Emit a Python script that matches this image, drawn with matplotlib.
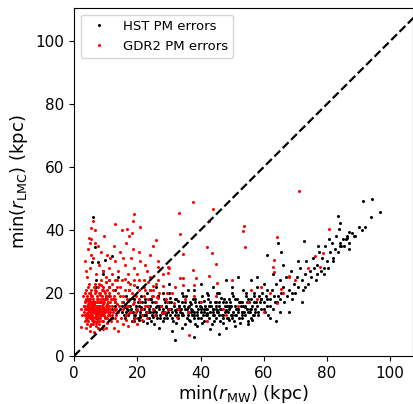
import numpy as np
import matplotlib
matplotlib.use("Agg")
import matplotlib.pyplot as plt

# HST PM errors (black)
hst_x = [
    4, 5, 6, 7, 8, 9, 10, 11, 12, 13,
    5, 6, 7, 8, 9, 10, 11, 12, 13, 14,
    6, 6.5, 12, 9.8, 7.6, 5.7, 9, 13, 7, 11,
    15, 15.5, 16, 16.3, 16.8, 17, 17.4, 17.8, 18.2, 18.5,
    19, 19.3, 19.7, 20, 20.3, 20.6, 21, 21.3, 21.7, 22,
    22.3, 22.6, 23, 23.3, 23.6, 24, 24.3, 24.6, 25, 25.3,
    25.6, 26, 26.3, 26.6, 27, 27.3, 27.6, 28, 28.3, 28.6,
    29, 29.3, 29.6, 30, 30.3, 30.6, 31, 31.3, 31.6, 32,
    32.3, 32.6, 33, 33.3, 33.6, 34, 34.3, 34.6, 35, 35.3,
    35.6, 36, 36.3, 36.6, 37, 37.3, 37.6, 38, 38.3, 38.6,
    39, 39.3, 39.6, 40, 40.3, 40.6, 41, 41.3, 41.6, 42,
    42.3, 42.6, 43, 43.3, 43.6, 44, 44.3, 44.6, 45, 45.3,
    45.6, 46, 46.3, 46.6, 47, 47.3, 47.6, 48, 48.3, 48.6,
    49, 49.3, 49.6, 50, 50.3, 50.6, 51, 51.3, 51.6, 52,
    52.3, 52.6, 53, 53.3, 53.6, 54, 54.3, 54.6, 55, 55.3,
    55.6, 56, 56.3, 56.6, 57, 57.3, 57.6, 58, 58.3, 58.6,
    15.2, 16.5, 17.6, 18.8, 19.5, 20.8, 21.5, 22.8, 23.8, 24.8,
    25.8, 26.8, 27.8, 28.8, 29.8, 30.8, 31.8, 32.8, 33.8, 34.8,
    35.8, 36.8, 37.8, 38.8, 39.8, 40.8, 41.8, 42.8, 43.8, 44.8,
    45.8, 46.8, 47.8, 48.8, 49.8, 50.8, 51.8, 52.8, 53.8, 54.8,
    55.8, 56.8, 57.8, 58.8, 59.2, 59.6, 60, 60.4, 60.8, 61.2,
    16, 18, 20, 22, 24, 26, 28, 30, 32, 34,
    36, 38, 40, 42, 44, 46, 48, 50, 52, 54,
    56, 17, 21, 25, 29, 33, 37, 41, 45, 49,
    53, 57, 19, 23, 27, 31, 35, 39, 43, 47,
    51, 55, 26, 30, 36, 40, 44, 48, 52, 56,
    32, 38, 46, 42, 34, 28, 24, 38, 50, 46,
    61.5, 62, 62.5, 63, 63.5, 64, 64.5, 65, 65.5, 66,
    66.5, 67, 67.5, 68, 68.5, 69, 69.5, 70, 70.5, 71,
    71.5, 72, 72.5, 73, 73.5, 74, 74.5, 75, 75.5, 76,
    76.5, 77, 77.5, 78, 78.5, 79, 79.5, 80, 80.5, 81,
    81.5, 82, 82.5, 83, 83.5, 84, 84.5, 85, 85.5, 86,
    86.5, 87, 88, 89, 90, 91, 92.1, 91.5, 94.4, 96.7,
    94, 83.6, 84.2, 83.9, 87, 88.6, 86.3, 72.8, 77.2, 80.7,
    63, 66, 60, 58, 62, 64, 68, 72, 61, 65,
    69, 73, 77, 79, 82, 84, 87, 71, 64.5, 65.5,
    61, 59, 57, 55, 53, 51, 49, 47, 45, 43,
    15.7, 16.9, 18.1, 19.1, 20.1, 21.1, 22.1, 23.1, 24.1, 25.1,
    26.1, 27.1, 28.1, 29.1, 30.1, 31.1, 32.1, 33.1, 34.1, 35.1,
    36.1, 37.1, 38.1, 39.1, 40.1, 41.1, 42.1, 43.1, 44.1, 45.1,
    46.1, 47.1, 48.1, 49.1, 50.1, 51.1, 52.1, 53.1, 54.1, 55.1,
    56.1, 57.1, 58.1, 59.1, 60.1, 61.1, 62.1, 63.1, 64.1, 65.1,
    18.4, 22.4, 26.4, 30.4, 34.4, 38.4, 42.4, 46.4, 50.4, 54.4,
    20.4, 24.4, 28.4, 32.4, 36.4, 40.4, 44.4, 48.4, 52.4, 56.4,
    17.2, 21.2, 25.2, 29.2, 33.2, 37.2, 41.2, 45.2, 49.2, 53.2,
]
hst_y = [
    15, 13, 17, 12, 16, 14, 18, 13, 15, 17,
    20, 11, 24, 14, 27, 19, 22, 12, 16, 25,
    44, 34.7, 31.7, 30.5, 29.8, 29.8, 26, 21, 22, 19,
    14, 17, 12, 19, 15, 13, 21, 16, 11, 14,
    18, 13, 15, 22, 12, 16, 14, 19, 11, 15,
    17, 13, 20, 14, 12, 16, 18, 13, 15, 10,
    17, 14, 12, 19, 15, 13, 16, 11, 18, 14,
    16, 12, 15, 20, 13, 17, 14, 11, 16, 13,
    18, 15, 12, 16, 14, 9, 17, 13, 15, 19,
    12, 14, 16, 11, 15, 13, 18, 14, 10, 16,
    13, 15, 17, 12, 14, 19, 11, 16, 13, 15,
    18, 12, 14, 16, 10, 15, 13, 17, 12, 20,
    14, 16, 11, 15, 13, 18, 14, 9, 16, 12,
    15, 17, 13, 20, 14, 11, 16, 13, 18, 15,
    12, 17, 14, 21, 16, 13, 19, 15, 11, 17,
    14, 18, 16, 13, 20, 15, 17, 22, 14, 19,
    16, 14, 18, 13, 16, 13, 17, 14, 15, 17,
    13, 16, 14, 17, 14, 15, 18, 13, 15, 16,
    15, 17, 12, 14, 16, 13, 15, 16, 13, 15,
    17, 13, 16, 14, 16, 13, 15, 16, 14, 17,
    15, 17, 16, 17, 15, 20, 17, 14, 19, 16,
    15.5, 15, 14.5, 13, 14, 15.5, 13.5, 15, 14.5, 13.5,
    15.5, 13, 15.5, 13.5, 14, 13, 14.5, 13, 14, 15.5,
    15, 17.5, 12.5, 12.5, 13.5, 17.5, 16.5, 17.5, 16, 11.5,
    12, 13, 11, 10.5, 9, 8, 10, 9.5, 8.5, 10.5,
    9.5, 10, 22, 23, 21, 23, 22, 24, 25, 24,
    5, 6, 7, 20, 20, 20, 21, 21, 22, 20,
    13, 18, 21, 15, 17, 23, 19, 14, 20, 22,
    17, 25, 19, 21, 27, 18, 23, 20, 25, 22,
    28, 24, 21, 26, 30, 23, 27, 25, 31, 28,
    24, 29, 33, 27, 31, 26, 35, 30, 28, 33,
    36, 31, 34, 38, 33, 36, 35, 37, 35, 37,
    38, 36, 39, 38, 41, 40, 41, 49.2, 49.8, 45.6,
    44.1, 44.5, 42.2, 40.4, 39.5, 38.1, 37.5, 36.5, 34.9, 37.1,
    26, 29, 23, 25, 12, 11, 14, 17, 21, 24,
    20, 22, 26, 28, 30, 35, 34, 30, 36, 33,
    32, 18, 19, 18, 17, 18, 18, 17, 17, 16,
    13, 16, 14, 12, 17, 15, 13, 16, 18, 14,
    16, 12, 15, 13, 17, 12, 14, 16, 13, 17,
    13, 14, 17, 12, 15, 14, 13, 17, 15, 14,
    15, 12, 17, 16, 12, 15, 17, 13, 16, 14,
    12, 14, 13, 18, 15, 18, 16, 19, 17, 18,
    18.5, 18, 19, 18.5, 19, 18, 19.5, 18.5, 19, 20,
    11.5, 11, 12, 10.5, 11.5, 10.5, 11, 12, 10.5, 11.5,
    14.5, 15.5, 14.5, 15.5, 15, 14.5, 15, 14.5, 15.5, 14,
]

# GDR2 PM errors (red)
gdr2_x = [
    3.2, 3.5, 3.8, 4, 4.2, 4.4, 4.6, 4.8, 5, 5.2,
    5.4, 5.6, 5.8, 6, 6.2, 6.4, 6.6, 6.8, 7, 7.2,
    7.4, 7.6, 7.8, 8, 8.2, 8.4, 8.6, 8.8, 9, 9.2,
    9.4, 9.6, 9.8, 10, 10.2, 10.4, 10.6, 10.8, 11, 11.2,
    11.4, 11.6, 11.8, 12, 12.3, 12.6, 13, 13.4, 13.8, 14.2,
    3.3, 3.6, 3.9, 4.1, 4.3, 4.5, 4.7, 4.9, 5.1, 5.3,
    5.5, 5.7, 5.9, 6.1, 6.3, 6.5, 6.7, 6.9, 7.1, 7.3,
    7.5, 7.7, 7.9, 8.1, 8.3, 8.5, 8.7, 8.9, 9.1, 9.3,
    9.5, 9.7, 9.9, 10.1, 10.3, 10.5, 10.7, 10.9, 11.1, 11.3,
    3.4, 3.7, 4, 4.3, 4.6, 4.9, 5.2, 5.5, 5.8, 6.1,
    6.4, 6.7, 7, 7.3, 7.6, 7.9, 8.2, 8.5, 8.8, 9.1,
    4.2, 4.8, 5.4, 6, 6.6, 7.2, 7.8, 8.4, 9, 9.6,
    3.5, 4.5, 5.5, 6.5, 7.5, 8.5, 3.8, 5, 6.3, 7.6,
    4.4, 5.6, 6.8, 8, 9.2, 10.4, 11.6, 12.8, 3.6, 9,
    12.2, 12.8, 13.2, 13.6, 14, 14.4, 14.8, 15.2, 15.6, 16,
    16.4, 16.8, 17.2, 17.6, 18, 18.4, 18.8, 19.2, 19.6, 20,
    20.5, 21, 21.5, 22, 22.5, 23, 23.5, 24, 25, 26,
    4, 5, 6, 4.5, 5.5, 6.5, 3.7, 7, 8, 9,
    10, 11, 12, 13, 14, 15, 16, 17, 18, 19,
    20, 21, 22, 23, 24, 8.5, 10.5, 12.5, 14.5, 16.5,
    18.5, 20.5, 22.5, 15, 17.5, 19, 18.5, 13, 21, 25,
    6, 5, 5.5, 3.4, 9.5, 11.5, 13.5, 15.5, 17, 19,
    7.5, 26, 27, 29, 32, 28, 30, 26.5, 24, 26,
    5.5, 16.7, 18.4, 4.7, 6.7, 2.1, 2.5, 3, 2.8, 2.3,
    12.5, 14, 15.5, 17, 18.5, 20, 21.5, 23, 13.5, 16.5,
    13, 14.5, 16, 17.5, 19, 20.5, 22, 23.5, 25, 26.5,
    11, 12, 10, 9, 12.5, 13.5, 14.5, 15.5, 16.5, 17.5,
    18.5, 19.5, 20.5, 21.5, 22.5, 23.5, 24.5, 25.5, 26.5, 27.5,
    33.2, 37.6, 44.1, 42.8, 33.4, 42.2, 43.6, 34.4, 53.7, 53.6,
    54.2, 44.9, 37.6, 42.8, 33.5, 34.6, 38.5, 34.6, 37.8, 45.2,
    36.3, 32.5, 29.3, 27.5, 27.7, 31.7, 26.2, 28.8, 29.8, 29.8,
    26.7, 24.9, 28.2, 71.2, 80.8, 64.1, 63.1, 62.9, 63.3, 76.3,
    78.9, 77.8, 68, 65.4, 64.3, 67.9, 36, 40, 45, 48,
    52, 56, 58, 60, 62, 35, 30, 42, 50, 70,
    74, 66, 31, 33, 29.5, 38, 47, 55, 59, 25,
    3.1, 3.9, 4.7, 5.5, 6.3, 7.1, 7.9, 8.7, 9.5, 10.3,
    3.5, 4.3, 5.1, 5.9, 6.7, 7.5, 8.3, 9.1, 9.9, 10.7,
    4.1, 4.9, 5.7, 6.5, 7.3, 8.1, 8.9, 9.7, 10.5, 11.3,
    4, 5, 6, 7, 8, 9, 10, 11, 12, 13,
    3.3, 4.4, 5.3, 6.2, 7.4, 8.2, 9.3, 10.2, 11.5, 12.4,
    3.8, 4.6, 5.4, 6.2, 7, 7.8, 8.6, 9.4, 10.2, 11,
]
gdr2_y = [
    14, 16, 12, 18, 15, 11, 20, 13, 17, 14,
    10, 19, 15, 12, 17, 14, 21, 13, 16, 11,
    18, 14, 20, 15, 12, 17, 13, 19, 15, 22,
    14, 17, 12, 19, 15, 21, 13, 17, 16, 20,
    14, 18, 12, 16, 21, 15, 18, 13, 20, 16,
    17, 13, 15, 10, 16, 14, 18, 12, 15, 19,
    13, 16, 14, 18, 11, 15, 17, 14, 19, 13,
    16, 12, 17, 14, 20, 15, 11, 16, 13, 18,
    15, 20, 14, 16, 12, 18, 15, 22, 13, 17,
    15, 18, 13, 17.5, 15.5, 16.5, 12, 17, 13, 15.5,
    16.5, 12.5, 14.5, 17, 15.5, 13, 16, 18, 14, 16.5,
    13.5, 14.5, 15, 14, 15, 14.5, 15, 14, 17, 13,
    20, 22, 21, 23, 22, 24, 9, 8, 7.5, 9,
    12.5, 11.5, 10.5, 10, 11, 10.5, 11, 12, 11, 8.5,
    14, 17, 15, 22, 14, 19, 12, 17, 15, 21,
    13, 18, 16, 23, 14, 20, 17, 12, 19, 15,
    21, 17, 13, 19, 16, 14, 18, 21, 15, 17,
    25, 28, 31, 34, 37, 40, 27, 26, 29, 27,
    25, 28, 26, 30, 27, 24, 29, 26, 31, 28,
    26, 30, 24, 27, 25, 33, 32, 35, 33, 36,
    34, 33, 29, 40, 38, 45, 43, 42, 41, 35,
    43, 36, 32, 30, 38, 31, 24, 31, 23.5, 24,
    35, 23, 20, 18, 22, 26, 28, 30, 32, 36.8,
    40.7, 40.3, 39, 37.4, 35.9, 9.3, 13, 16, 19, 15,
    9, 8, 10, 9.5, 11, 10, 11.5, 12, 11, 11.5,
    24, 22, 24.5, 21, 22.5, 24, 22, 23.5, 21, 24,
    24, 23, 23.5, 21, 19, 16.5, 15, 19, 16, 13.5,
    16.5, 14, 18, 15, 21, 16, 19, 13, 18.5, 16,
    45.5, 49, 46.7, 42.9, 38.7, 34.7, 32.8, 32.3, 41.3, 39.8,
    34.7, 29.1, 27.2, 25.5, 24.9, 24.9, 24.9, 22.5, 22.5, 23.3,
    6.7, 12.5, 19.9, 15.9, 13.7, 16.7, 18.8, 14.1, 28.4, 26.4,
    28.4, 22.2, 22.2, 52.5, 40.2, 37.9, 30.5, 28.4, 26.7, 31.8,
    32.8, 28.4, 25.2, 21.2, 16.9, 25.4, 14, 17, 19, 13,
    16, 21, 18, 14, 20, 18, 15, 11, 24, 24,
    28, 20, 20, 15, 17, 19, 15, 17, 22, 19,
    16, 15, 13, 14, 16, 15, 14, 13, 14, 16,
    13, 15.5, 18, 16.5, 13.5, 18, 17, 15, 18, 14,
    19, 20, 12.5, 20, 12, 19.5, 21, 12.5, 16.5, 15,
    11.5, 9.5, 10, 9.5, 11, 9.5, 9, 11.5, 13, 14.5,
    17.5, 16.5, 15.5, 14.5, 13.5, 15, 15.5, 14.5, 19, 18,
    21, 23, 19.5, 22, 20.5, 23, 22.5, 20.5, 23.5, 24,
]

fig = plt.figure(figsize=(4.14, 4.04), dpi=100)
ax = fig.add_axes([0.179, 0.119, 0.819, 0.861])

ax.plot(hst_x, hst_y, "o", color="black", ms=2.2, mew=0, ls="none",
        label="HST PM errors")
ax.plot(gdr2_x, gdr2_y, "o", color="red", ms=2.2, mew=0, ls="none",
        label="GDR2 PM errors")
ax.plot([0, 120], [0, 120], "k--", lw=1.6)

ax.set_xlim(0, 107.3)
ax.set_ylim(0, 110.5)
ax.set_xticks([0, 20, 40, 60, 80, 100])
ax.set_yticks([0, 20, 40, 60, 80, 100])
ax.tick_params(labelsize=11)
ax.set_xlabel(r"min($r_{\rm MW}$) (kpc)", fontsize=13, labelpad=2)
ax.set_ylabel(r"min($r_{\rm LMC}$) (kpc)", fontsize=13, labelpad=4)
ax.legend(loc="upper left", fontsize=9.5)

fig.savefig("out.png", dpi=100)
